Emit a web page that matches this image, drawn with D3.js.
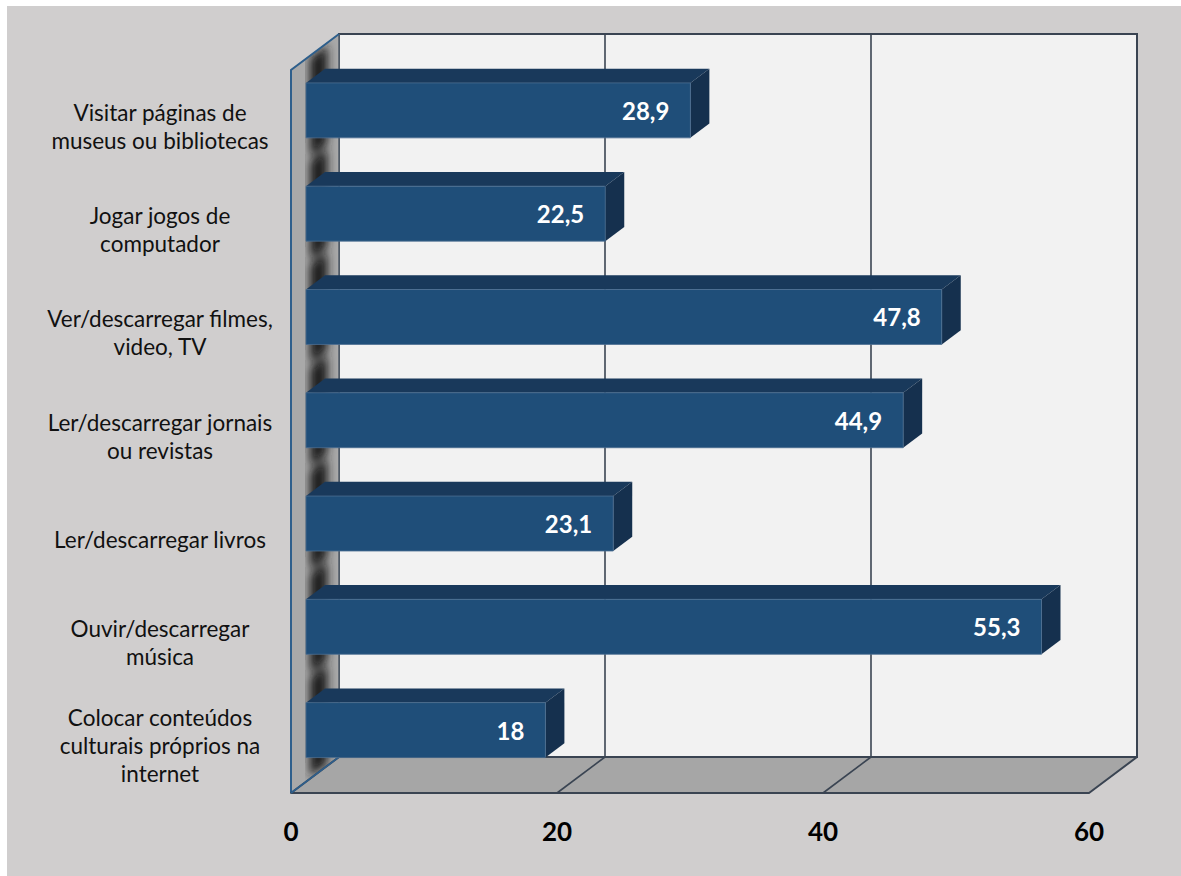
<!DOCTYPE html>
<html>
<head>
<meta charset="utf-8">
<script src="https://cdn.jsdelivr.net/npm/d3@7"></script>
<style>
  html, body { margin: 0; padding: 0; background: #ffffff; }
  svg { display: block; }
</style>
</head>
<body>
<script>
// Categories, top to bottom
const categories = [
  "Visitar páginas de museus ou bibliotecas",
  "Jogar jogos de computador",
  "Ver/descarregar filmes, video, TV",
  "Ler/descarregar jornais ou revistas",
  "Ler/descarregar livros",
  "Ouvir/descarregar música",
  "Colocar conteúdos culturais próprios na internet"
];
// Percentages
const values = [28.9, 22.5, 47.8, 44.9, 23.1, 55.3, 18];
const valueLabels = ["28,9", "22,5", "47,8", "44,9", "23,1", "55,3", "18"];
const xTicks = [0, 20, 40, 60];

const W = 1181, H = 876;
const svg = d3.select("body").append("svg").attr("width", W).attr("height", H);

// page frame
svg.append("rect").attr("width", W).attr("height", H).attr("fill", "#ffffff");
svg.append("rect").attr("x", 7).attr("y", 6).attr("width", W - 7).attr("height", H - 6).attr("fill", "#d0cece");

// 3D layout: front plane and depth offset
const plotLeft = 291, plotTop = 70, plotBottom = 793;
const DX = 48, DY = 36;           // full depth of the plot box
const dFront = 15 / 48, dBack = 34 / 48;   // depth span of the bars

const x = d3.scaleLinear().domain([0, 60]).range([plotLeft, plotLeft + 798]);
const y = d3.scaleBand().domain(categories).range([plotTop, plotBottom])
  .paddingInner(0.468).paddingOuter(0.234);

// project a point (value, y on front plane, depth 0..1) to the screen
const P = (v, yy, d) => [x(v) + DX * d, yy - DY * d];
const poly = pts => "M" + pts.map(p => p.join(",")).join("L") + "Z";

const defs = svg.append("defs");
defs.append("filter").attr("id", "soft").attr("x", "-50%").attr("y", "-50%")
  .attr("width", "200%").attr("height", "200%")
  .append("feGaussianBlur").attr("stdDeviation", 5);

const wallPts = [P(0, plotTop, 0), P(0, plotTop, 1), P(0, plotBottom, 1), P(0, plotBottom, 0)];
defs.append("clipPath").attr("id", "wallClip").append("path").attr("d", poly(wallPts));

const edge = "#3a4452";

// back wall
const [bx0, by0] = P(0, plotTop, 1), [bx1, by1] = P(60, plotBottom, 1);
svg.append("rect").attr("x", bx0).attr("y", by0).attr("width", bx1 - bx0).attr("height", by1 - by0)
  .attr("fill", "#f2f2f2").attr("stroke", edge).attr("stroke-width", 2);

// gridlines on back wall
svg.append("g").selectAll("line").data(xTicks.slice(1, -1)).join("line")
  .attr("x1", d => P(d, plotTop, 1)[0]).attr("x2", d => P(d, plotBottom, 1)[0])
  .attr("y1", by0).attr("y2", by1)
  .attr("stroke", edge).attr("stroke-width", 1.6);

// left side wall with the bars' soft shadows
svg.append("path").attr("d", poly(wallPts)).attr("fill", "#a9a9a9");
const shadows = svg.append("g").attr("clip-path", "url(#wallClip)").append("g").attr("filter", "url(#soft)");
categories.forEach(c => {
  const t = y(c) - 22, b = y(c) + y.bandwidth() + 22;
  shadows.append("path")
    .attr("d", poly([P(0, t, dFront + 0.08), P(0, t, dBack + 0.05), P(0, b, dBack + 0.05), P(0, b, dFront + 0.08)]))
    .attr("fill", "#1e1e1e");
});
// lighter strip along the front edge of the wall
svg.append("path").attr("d", poly([P(0, plotTop, 0), P(0, plotTop, dFront - 0.02), P(0, plotBottom, dFront - 0.02), P(0, plotBottom, 0)]))
  .attr("fill", "#a9a9a9");
svg.append("line").attr("x1", bx0).attr("x2", bx0).attr("y1", by0).attr("y2", by1)
  .attr("stroke", "#55606c").attr("stroke-width", 1.6);
svg.append("path").attr("d", "M" + P(0, plotBottom, 0).join(",") + "L" + P(0, plotTop, 0).join(",") + "L" + P(0, plotTop, 1).join(","))
  .attr("fill", "none").attr("stroke", "#2e5f8c").attr("stroke-width", 2);

// floor
svg.append("path").attr("d", poly([P(0, plotBottom, 0), P(60, plotBottom, 0), P(60, plotBottom, 1), P(0, plotBottom, 1)]))
  .attr("fill", "#a6a6a6").attr("stroke", edge).attr("stroke-width", 2).attr("stroke-linejoin", "round");
svg.append("g").selectAll("line").data(xTicks.slice(1, -1)).join("line")
  .attr("x1", d => P(d, plotBottom, 0)[0]).attr("y1", plotBottom)
  .attr("x2", d => P(d, plotBottom, 1)[0]).attr("y2", P(0, plotBottom, 1)[1])
  .attr("stroke", edge).attr("stroke-width", 1.6);
svg.append("line").attr("x1", P(0, plotBottom, 0)[0]).attr("y1", plotBottom)
  .attr("x2", P(0, plotBottom, 1)[0]).attr("y2", P(0, plotBottom, 1)[1])
  .attr("stroke", "#2e5f8c").attr("stroke-width", 1.6);

// bars
const data = categories.map((c, i) => ({ c, v: values[i], label: valueLabels[i] }));
const bars = svg.append("g").selectAll("g").data(data).join("g");
bars.each(function (d) {
  const g = d3.select(this);
  const t = y(d.c), b = y(d.c) + y.bandwidth();
  const fTL = P(0, t, dFront), fTR = P(d.v, t, dFront), fBR = P(d.v, b, dFront), fBL = P(0, b, dFront);
  const bTL = P(0, t, dBack), bTR = P(d.v, t, dBack), bBR = P(d.v, b, dBack);
  g.append("path").attr("d", poly([fTL, fTR, bTR, bTL])).attr("fill", "#19395b");
  g.append("path").attr("d", poly([fTR, bTR, bBR, fBR])).attr("fill", "#15304e");
  g.append("path").attr("d", poly([fTL, fTR, fBR, fBL])).attr("fill", "#1f4e79")
    .attr("stroke", "#4d6f92").attr("stroke-width", 0.8);
  g.append("text")
    .attr("x", fTR[0] - 21).attr("y", (fTL[1] + fBL[1]) / 2)
    .attr("text-anchor", "end").attr("dominant-baseline", "central")
    .attr("font-family", "Lato, 'Open Sans', sans-serif").attr("font-weight", 700)
    .attr("font-size", 24).attr("fill", "#ffffff").text(d.label);
});

// category labels, wrapped and centred
const catFont = 22.5, lineH = 28, maxW = 235, labelCX = 160;
const labels = svg.append("g").attr("font-family", "Lato, 'Open Sans', sans-serif")
  .attr("font-size", catFont).attr("fill", "#111111").attr("text-anchor", "middle");
const measure = labels.append("text").attr("visibility", "hidden");
function wrap(str) {
  const words = str.split(" "), lines = [];
  let cur = "";
  words.forEach(w => {
    const test = cur ? cur + " " + w : w;
    measure.text(test);
    if (cur && measure.node().getComputedTextLength() > maxW) { lines.push(cur); cur = w; }
    else cur = test;
  });
  lines.push(cur);
  return lines;
}
categories.forEach(c => {
  const lines = wrap(c);
  const cy = y(c) + y.bandwidth() / 2 + 4;
  const t = labels.append("text").attr("x", labelCX)
    .attr("y", cy - (lines.length - 1) * lineH / 2).attr("dominant-baseline", "central");
  lines.forEach((ln, i) => t.append("tspan").attr("x", labelCX).attr("dy", i ? lineH : 0).text(ln));
});
measure.remove();

// value axis tick labels under the front edge of the floor
svg.append("g").selectAll("text").data(xTicks).join("text")
  .attr("x", d => x(d)).attr("y", 841)
  .attr("text-anchor", "middle")
  .attr("font-family", "Lato, 'Open Sans', sans-serif").attr("font-weight", 700)
  .attr("font-size", 26).attr("fill", "#000000").text(d => d);
</script>
</body>
</html>
